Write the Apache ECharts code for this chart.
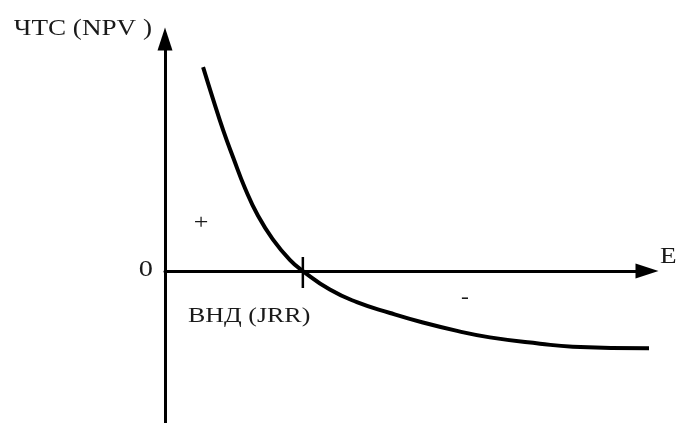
<!DOCTYPE html>
<html>
<head>
<meta charset="utf-8">
<script src="https://cdn.jsdelivr.net/npm/echarts@6/dist/echarts.min.js"></script>
<style>
  html, body { margin: 0; padding: 0; background: #fff; }
  #grafico { width: 677px; height: 423px; }
</style>
</head>
<body>
<div id="grafico"></div>
<script>
/* NPV curve vs discount rate */
var rateValues = [7.9, 10.0, 12.1, 14.2, 16.6, 19.3, 22.4, 25.9, 28.6, 34.2, 39.8, 46.7, 53.5, 60.6, 67.4, 77.8, 84.6, 100.6];
var npvValues = [87.9, 73.9, 60.5, 48.6, 35.7, 23.8, 13.6, 4.8, 0, -8.0, -13.4, -18.1, -22.2, -25.8, -28.6, -31.3, -32.6, -33.3];
var irrRate = 28.6;
var irrTick = [6.0, -7.3];

var labelsText = ['ЧТС (NPV )', 'E', '0', '+', '-', 'ВНД (JRR)'];

var dom = document.getElementById("grafico");
var myChart = echarts.init(dom);

var curve = [];
for (var i = 0; i < rateValues.length; i++) {
    curve.push([rateValues[i], npvValues[i]]);
}

var font = '"Liberation Serif", "Times New Roman", serif';

function txt(s, x, y, align, size) {
    return {
        type: 'text',
        x: x, y: y,
        scaleX: 1.18,
        style: {
            text: s,
            fill: '#1a1a1a',
            font: size + 'px ' + font,
            textAlign: align,
            textVerticalAlign: 'middle'
        }
    };
}

var option = {
    animation: false,
    grid: { left: 165, right: 30, top: 39, bottom: 0 },
    xAxis: {
        type: 'value',
        min: 0,
        max: 100,
        axisLine: {
            onZero: true,
            symbol: ['none', 'triangle'],
            symbolSize: [15, 23],
            lineStyle: { color: '#000', width: 3 }
        },
        axisTick: { show: false },
        axisLabel: { show: false },
        splitLine: { show: false }
    },
    yAxis: {
        type: 'value',
        min: -65.5,
        max: 100,
        axisLine: {
            show: true,
            onZero: false,
            symbol: ['none', 'triangle'],
            symbolSize: [15, 23],
            lineStyle: { color: '#000', width: 3 }
        },
        axisTick: { show: false },
        axisLabel: { show: false },
        splitLine: { show: false }
    },
    series: [{
        name: 'npv',
        type: 'line',
        smooth: true,
        clip: false,
        showSymbol: false,
        lineStyle: { color: '#000', width: 4 },
        data: curve
    }, {
        name: 'irr',
        type: 'line',
        showSymbol: false,
        lineStyle: { color: '#000', width: 2.5 },
        data: [[irrRate, irrTick[0]], [irrRate, irrTick[1]]]
    }],
    graphic: [
        txt(labelsText[0], 152, 29, 'right', 23),
        txt(labelsText[1], 660, 257, 'left', 23),
        txt(labelsText[2], 153, 270, 'right', 24),
        txt(labelsText[3], 201, 223, 'center', 22),
        txt(labelsText[4], 465, 298, 'center', 20),
        txt(labelsText[5], 188, 316, 'left', 22)
    ]
};

if (option && typeof option === "object") {
    myChart.setOption(option, true);
}
</script>
</body>
</html>
